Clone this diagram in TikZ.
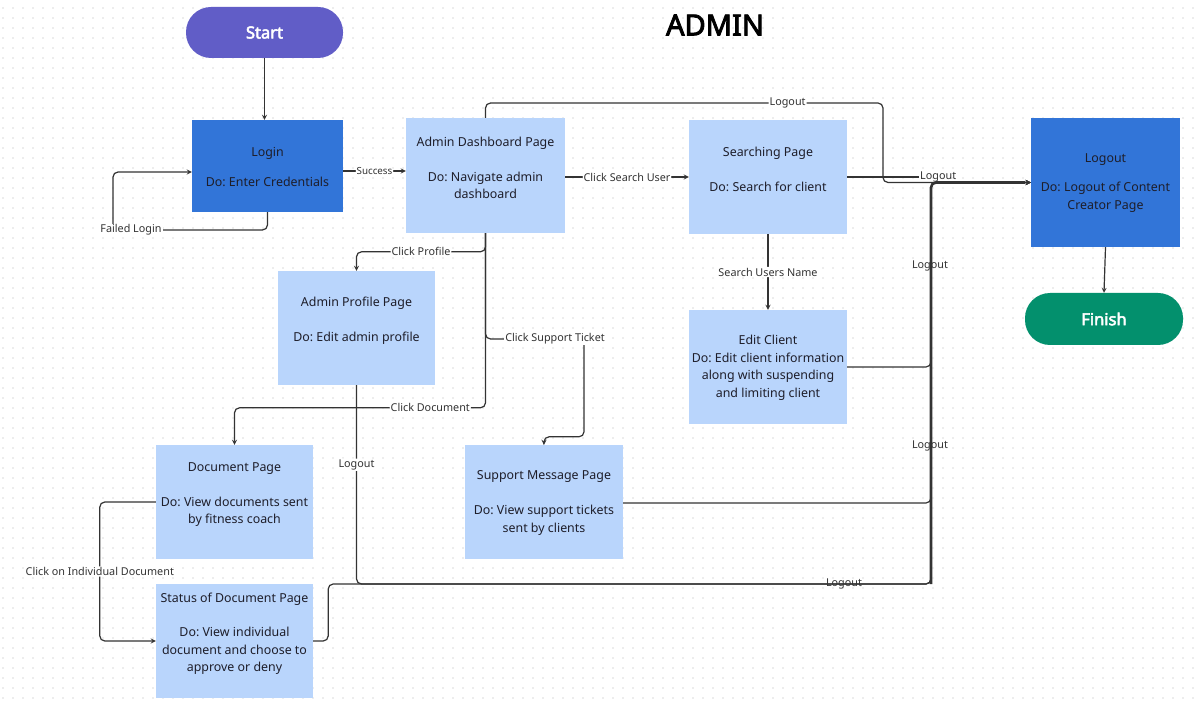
\documentclass[tikz,border=0pt]{standalone}
\usepackage{fontspec}
\setmainfont{Noto Sans}
\newfontfamily\headfont{Noto Sans}[FakeBold=3]
\frenchspacing

\definecolor{startpurple}{HTML}{615DC7}
\definecolor{darkblue}{HTML}{3275D8}
\definecolor{lightblue}{HTML}{B9D5FC}
\definecolor{finishgreen}{HTML}{03906D}
\definecolor{linegray}{HTML}{333333}
\definecolor{textdark}{HTML}{1E1E2A}
\definecolor{labelgray}{HTML}{333333}

\begin{document}
\begin{tikzpicture}[x=1pt,y=-1pt]
		% Define styles for pages, terminals and connectors
		\tikzset{
			pagebox/.style={rectangle, fill=lightblue, minimum width=158pt, minimum height=114pt, inner sep=0pt},
			darkbox/.style={rectangle, fill=darkblue, inner sep=0pt},
			terminal/.style={rectangle, rounded corners=25pt, minimum width=157pt, minimum height=51pt, inner sep=0pt, text=white, font=\fontsize{16.5}{19}\headfont},
			boxtext/.style={align=center, text=textdark, inner sep=0pt, font=\fontsize{12.4}{17.5}\selectfont},
			lbl/.style={fill=white, inner sep=1pt, text=labelgray, font=\fontsize{10.8}{12}\selectfont},
			bare/.style={lbl, fill=none},
			link/.style={draw=linegray, line width=1.2pt, rounded corners=5pt},
			flow/.style={link, -stealth},
			trunk/.style={draw=linegray, line width=2.6pt, rounded corners=5pt},
			griddot/.style={draw=black!7, line width=1.6pt, dash pattern=on 1.6pt off 8.4pt}
		}
		
		% Background and dotted grid
		\fill[white] (0,0) rectangle (1200,703);
		\useasboundingbox (0,0) rectangle (1200,703);
		\foreach \y in {8,18,...,698}
			\draw[griddot] (2,\y) -- (1200,\y);
		
		% Title
		\node[font=\fontsize{29}{32}\headfont, inner sep=0pt] (title) at (715,25) {ADMIN};
		
		% Terminals
		\node[terminal, fill=startpurple] (start) at (264.5,32.5) {Start};
		\node[terminal, fill=finishgreen, minimum width=158pt, minimum height=52pt] (finish) at (1104,319) {Finish};
		
		% Dark boxes
		\node[darkbox, minimum width=151pt, minimum height=92pt] (login) at (267.5,166) {};
		\node[darkbox, minimum width=149pt, minimum height=129pt] (logout) at (1105.5,182.5) {};
		
		% Pages
		\node[pagebox, minimum width=159pt, minimum height=115pt] (dash) at (485.5,175.5) {};
		\node[pagebox] (search) at (768,177) {};
		\node[pagebox, minimum width=157pt] (profile) at (356.5,328) {};
		\node[pagebox] (edit) at (768,367) {};
		\node[pagebox, minimum width=157pt] (doc) at (234.5,502) {};
		\node[pagebox] (support) at (544,502) {};
		\node[pagebox, minimum width=157pt] (status) at (234.5,641) {};
		
		% Box texts
		\node[boxtext] (login-t) at (267.5,167) {Login\\[12.5pt]Do: Enter Credentials};
		\node[boxtext] (logout-t) at (1105.5,183) {Logout\\[11.5pt]Do: Logout of Content\\Creator Page};
		\node[boxtext] (dash-t) at (485.5,168) {Admin Dashboard Page\\[17.5pt]Do: Navigate admin\\dashboard};
		\node[boxtext] (search-t) at (768,169.5) {Searching Page\\[17.5pt]Do: Search for client};
		\node[boxtext] (profile-t) at (356.5,320.5) {Admin Profile Page\\[17.5pt]Do: Edit admin profile};
		\node[boxtext] (edit-t) at (768,368) {Edit Client\\Do: Edit client information\\along with suspending\\and limiting client};
		\node[boxtext] (doc-t) at (234.5,495) {Document Page\\[17pt]Do: View documents sent\\by fitness coach};
		\node[boxtext] (support-t) at (544,503) {Support Message Page\\[17.5pt]Do: View support tickets\\sent by clients};
		\node[boxtext] (status-t) at (234.5,633.5) {Status of Document Page\\[17pt]Do: View individual\\document and choose to\\approve or deny};
		
		% Bend points
		\coordinate (failbend) at (113,230);
		\coordinate (topbend) at (883,103);
		\coordinate (ticketbend) at (584,339);
		\coordinate (trunktop) at (931,182.5);
		\coordinate (trunkbot) at (931,584);
		\coordinate (searchend) at (919,177);
		
		% Login flow
		\draw[flow] (start.south) -- (start.south |- login.north);
		\draw[flow] (login.south) |- (failbend) |- ([yshift=-6pt]login.west);
		\node[lbl] (failed) at (131,230) {Failed Login};
		\draw[flow] ([yshift=-5pt]login.east) -- node[lbl, font=\fontsize{9.8}{11}\selectfont] (success) {Success} ([yshift=-5pt]login.east -| dash.west);
		
		% Dashboard flows
		\draw[flow] (dash.east |- search.west) -- node[lbl] (clicksearch) {Click Search User} (search.west);
		\draw[flow] (dash.south) |- node[lbl, pos=0.75] (clickprofile) {Click Profile} ([yshift=19pt]profile.north) -- (profile.north);
		\draw[flow] (dash.south) |- node[lbl, pos=0.61] (clickdoc) {Click Document} ([yshift=37pt]doc.north) -- (doc.north);
		\draw[flow] (dash.south) |- (ticketbend) |- ([yshift=8pt]support.north) -- (support.north);
		\node[lbl] (clickticket) at (555,339) {Click Support Ticket};
		\draw[flow] (search.south) -- node[lbl] (searchname) {Search Users Name} (edit.north);
		\draw[flow] (doc.west) -- ++(-56,0) |- node[lbl, pos=0.25] (clickindiv) {Click on Individual Document} (status.west);
		
		% Logout flows
		\draw[flow] (dash.north) |- node[lbl, pos=0.88] (lo-top) {Logout} (topbend) |- (logout.west);
		\draw[link] (search.east) -- (searchend);
		\draw[flow] (edit.east) -| (trunktop) -- (logout.west);
		\draw[flow] (support.east |- 0,503) -| (trunktop) -- (logout.west);
		\draw[flow] (profile.south) |- node[lbl, pos=0.2] (lo-profile) {Logout} (trunkbot) -- (trunktop) -- (logout.west);
		\draw[flow] (status.east) -- ++(15,0) |- (trunkbot) -- (trunktop) -- (logout.west);
		\draw[trunk] (trunkbot) -- (trunktop) -- ([xshift=-6pt]logout.west);
		\draw[flow] (logout.south) -- (finish.north);
		
		% Logout labels over the trunk
		\node[bare, anchor=west, inner sep=0pt] (lo-search) at ([xshift=1pt]searchend) {Logout};
		\node[bare] (lo-edit) at (930,266) {Logout};
		\node[bare] (lo-support) at (930,446) {Logout};
		\node[bare] (lo-bottom) at (844,584) {Logout};
	\end{tikzpicture}
\end{document}
